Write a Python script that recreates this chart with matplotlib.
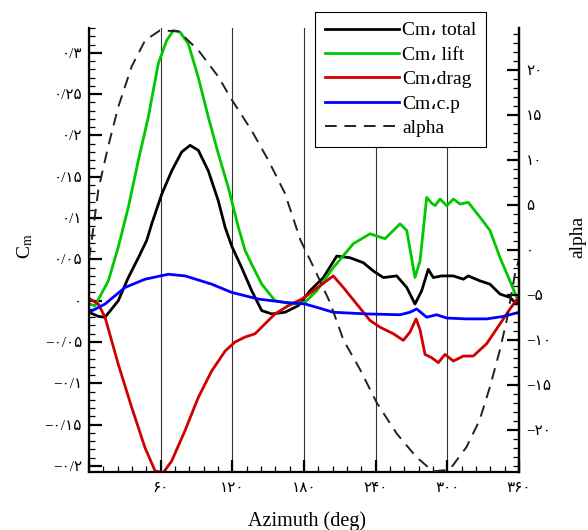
import matplotlib as mpl
import matplotlib.pyplot as plt
import numpy as np
from matplotlib.ticker import FixedLocator, MultipleLocator, FuncFormatter

mpl.use("Agg")

plt.rcParams['font.family'] = ['Liberation Serif', 'DejaVu Sans']
plt.rcParams['mathtext.fontset'] = 'stix'

# Data

az_total = [0, 7.8, 13.4, 24.5, 32.9, 41.3, 48.3, 52.5, 60.9, 69.2, 77.6, 84.6, 91.5, 99.9, 108.2,
            113.9, 119.5, 127.8, 136.2, 144.6, 153, 164.1, 175.2, 185, 196.2, 207.4, 218.5, 229.6,
            238, 246.4, 257.6, 266, 272.9, 278.5, 284, 288.2, 295.3, 305, 313.4, 317.5, 327.3,
            335.7, 344.1, 352.4, 358, 360]
cm_total = [-0.014, -0.019, -0.020, 0.0, 0.028, 0.052, 0.073, 0.093, 0.129, 0.157, 0.180, 0.188,
            0.182, 0.157, 0.121, 0.089, 0.066, 0.040, 0.012, -0.012, -0.016, -0.014, -0.006,
            0.012, 0.028, 0.054, 0.052, 0.046, 0.036, 0.028, 0.030, 0.016, -0.004, 0.012, 0.038,
            0.028, 0.030, 0.030, 0.026, 0.030, 0.024, 0.020, 0.008, 0.004, -0.004, 0.002]

az_lift = [0, 5, 16.2, 24.5, 32.9, 41.3, 49.6, 58, 65, 70.6, 76.2, 83.1, 91.5, 99.9, 108.2, 116.6,
           125, 130.6, 136.2, 144.6, 155.7, 169.7, 180.8, 190.6, 204.5, 221.3, 235.3, 247.8, 260.4,
           266, 272.9, 277.1, 282.7, 286.9, 289.7, 293.9, 299.5, 305, 310.6, 317.5, 327.3, 335.7,
           344.1, 352.4, 358, 360]
cm_lift = [-0.004, -0.006, 0.024, 0.065, 0.113, 0.170, 0.222, 0.287, 0.315, 0.327, 0.325, 0.311,
           0.270, 0.222, 0.178, 0.137, 0.089, 0.061, 0.044, 0.020, 0.0, -0.004, -0.002, 0.012,
           0.040, 0.069, 0.081, 0.075, 0.093, 0.085, 0.028, 0.048, 0.125, 0.118, 0.115, 0.123,
           0.115, 0.123, 0.117, 0.119, 0.101, 0.085, 0.052, 0.024, 0.004, 0.003]

az_drag = [0, 7.8, 13.4, 24.5, 35.7, 46.9, 55.3, 62.2, 69.2, 80.4, 91.5, 102.7, 113.9, 122.2, 130.6,
           139, 147.3, 155.7, 166.9, 178.1, 187.8, 204.5, 212.9, 224.1, 235.3, 243.6, 254.8, 263.1,
           268.7, 273.8, 277.1, 281.3, 286.9, 292.4, 298, 305, 313.4, 321.7, 332.9, 344.1, 352.4,
           360]
cm_drag = [0.003, -0.004, -0.020, -0.077, -0.129, -0.178, -0.206, -0.208, -0.194, -0.157, -0.117,
           -0.085, -0.061, -0.050, -0.044, -0.040, -0.028, -0.016, -0.006, 0.002, 0.012, 0.030,
           0.016, -0.004, -0.024, -0.032, -0.040, -0.048, -0.038, -0.022, -0.035, -0.065, -0.069,
           -0.075, -0.065, -0.073, -0.067, -0.067, -0.052, -0.028, -0.010, 0.005]

az_cp = [0, 13.4, 30.1, 46.9, 66.4, 80.4, 102.7, 119.5, 141.7, 164.1, 180.8, 190.6, 204.5, 232.5,
         260.4, 268.7, 274.3, 282.7, 291, 299.5, 316.2, 332.9, 346.9, 360]
cm_cp = [-0.014, -0.004, 0.016, 0.026, 0.032, 0.030, 0.020, 0.010, 0.002, -0.002, -0.004, -0.008,
         -0.014, -0.016, -0.017, -0.014, -0.010, -0.020, -0.017, -0.021, -0.022, -0.022, -0.019,
         -0.014]

az_alpha = [0, 2.2, 7.8, 16, 24.5, 35.7, 47, 59.4, 75, 91.5, 108, 119.5, 136, 150, 164, 177, 188,
            202, 213, 227, 241, 257.6, 274, 288, 302, 316, 327, 335.7, 344, 349.7, 356.7, 360]
alpha = [-1.0, 1.0, 6.7, 11.5, 15.9, 20.4, 23.3, 24.4, 24.3, 22.2, 19.3, 16.7, 13.3, 10, 6.3, 1.1,
         -1.9, -5.9, -10, -13.3, -17, -20.4, -23, -24.6, -24.4, -21.9, -18.9, -15.2, -11.1, -7.8,
         -2.6, -1.0]

x_ticks = [0, 60, 120, 180, 240, 300, 360]
cm_ticks = [-0.2, -0.15, -0.1, -0.05, 0, 0.05, 0.1, 0.15, 0.2, 0.25, 0.3]
alpha_ticks = [-20, -15, -10, -5, 0, 5, 10, 15, 20]

labels = ["Cm\u060c total", "Cm\u060c lift", "Cm\u060cdrag", "Cm\u060cc.p", "alpha"]

# Persian digits for tick labels
FA = str.maketrans("0123456789.-", "\u06f0\u06f1\u06f2\u06f3\u06f4\u06f5\u06f6\u06f7\u06f8\u06f9/\u2212")


def fa(v, pos=None):
    s = ("%.2f" % v).rstrip("0").rstrip(".")
    if s in ("-0", ""):
        s = "0"
    return s.translate(FA)


def fa_x(v, pos=None):
    if abs(v) < 1e-9:
        return ""
    return fa(v)


# Plot

fig = plt.figure(figsize=(5.88, 5.30), dpi=100)
ax = fig.add_axes([0.1514, 0.1094, 0.7313, 0.8378])
ax2 = ax.twinx()

linew = 2.0
l1, = ax.plot(az_total, cm_total, color='black', lw=linew)
l2, = ax.plot(az_lift, cm_lift, color='#00c800', lw=linew)
l3, = ax.plot(az_drag, cm_drag, color='#d00000', lw=linew)
l4, = ax.plot(az_cp, cm_cp, color='#0000ff', lw=linew)
l5, = ax2.plot(az_alpha, alpha, color='#222222', lw=1.4, ls=(0, (6, 4)))

ax.set_xlim(0, 360)
ax.set_ylim(-0.2073, 0.330)
ax2.set_ylim(-24.67, 24.67)

ax.xaxis.set_major_locator(FixedLocator(x_ticks))
ax.xaxis.set_minor_locator(MultipleLocator(12))
ax.yaxis.set_major_locator(FixedLocator(cm_ticks))
ax.yaxis.set_minor_locator(MultipleLocator(0.01))
ax2.yaxis.set_major_locator(FixedLocator(alpha_ticks))
ax2.yaxis.set_minor_locator(MultipleLocator(1))

ax.xaxis.set_major_formatter(FuncFormatter(fa_x))
ax.yaxis.set_major_formatter(FuncFormatter(fa))
ax2.yaxis.set_major_formatter(FuncFormatter(fa))

ax.grid(axis='x', which='major', color='#333333', lw=0.8)

for a in (ax, ax2):
    a.spines['top'].set_visible(False)
    for s in a.spines.values():
        s.set_linewidth(1.6)
    a.tick_params(which='major', direction='in', length=9, width=1.6, labelsize=11, pad=5)
    a.tick_params(which='minor', direction='in', length=4, width=0.9)
ax2.spines['left'].set_visible(False)
ax2.spines['bottom'].set_visible(False)
ax.tick_params(axis='x', pad=7)

ax.set_xlabel('Azimuth (deg)', fontsize=14.5)
ax.xaxis.set_label_coords(0.507, -0.088)
ax.set_ylabel(r'C$_{\rm m}$', fontsize=14)
ax.yaxis.set_label_coords(-0.125, 0.51)
ax2.set_ylabel('alpha', fontsize=14)
ax2.yaxis.set_label_coords(1.118, 0.53)

leg = fig.legend([l1, l2, l3, l4, l5], labels, loc='upper left',
                 bbox_to_anchor=(0.5357, 0.9774), borderaxespad=0, fontsize=14,
                 handlelength=3.8, handletextpad=0.2, labelspacing=0.35, borderpad=0.5,
                 fancybox=False, framealpha=1, edgecolor='black')
leg.get_frame().set_linewidth(0.8)

plt.savefig("out.png", dpi=100)
